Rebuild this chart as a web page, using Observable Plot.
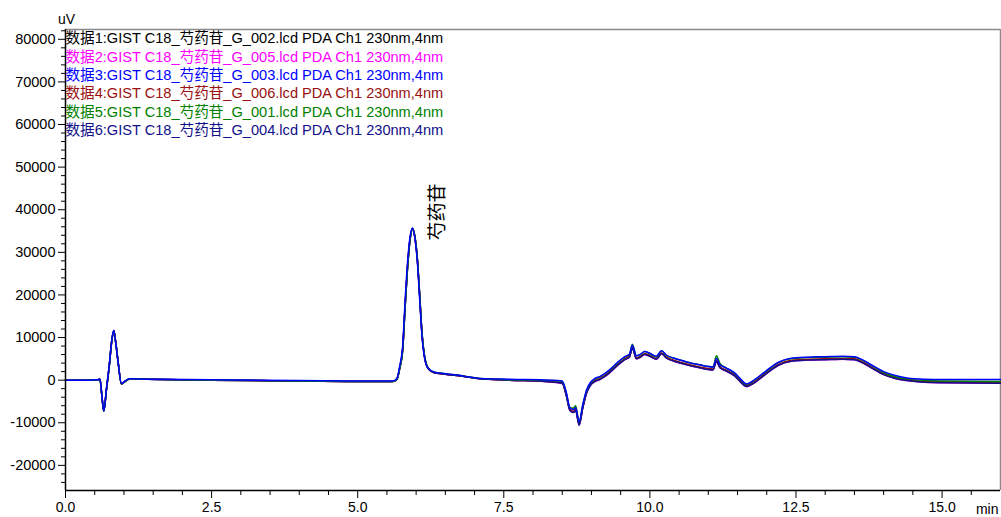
<!DOCTYPE html>
<html>
<head>
<meta charset="utf-8">
<script src="https://cdn.jsdelivr.net/npm/d3@7"></script>
<script src="https://cdn.jsdelivr.net/npm/@observablehq/plot@0.6"></script>
<style>
  html, body { margin: 0; padding: 0; background: #fff; }
  #chart svg { display: block; overflow: visible; }
</style>
</head>
<body>
<div id="chart"></div>
<script>
// Retention time (min)
const T = [0,0.4,0.55,0.59,0.62,0.655,0.70,0.75,0.79,0.826,0.86,0.90,0.957,1.02,1.1,1.4,2.5,4.0,5.0,5.6,
  5.67,5.72,5.77,5.81,5.85,5.90,5.94,5.98,6.02,6.06,6.10,6.15,6.20,6.30,6.50,6.8,7.1,7.6,8.3,8.5,
  8.57,8.63,8.69,8.73,8.79,8.85,8.92,8.98,9.05,9.15,9.3,9.45,9.57,9.65,9.70,9.77,9.84,9.91,10.0,10.11,
  10.20,10.28,10.4,10.6,10.85,11.08,11.14,11.20,11.3,11.45,11.55,11.65,11.8,12.0,12.2,12.4,12.7,13.0,13.3,13.5,
  13.65,13.8,14.0,14.2,14.4,14.7,15.0,16.0];

// Signal (uV), one array per run
const S1 = [0,0,100,200,-3300,-7300,-2300,3500,9000,11600,8800,4300,-900,-300,300,200,0,-200,-300,-300,
  200,2900,7200,17000,26000,33500,35600,33500,28500,20000,11000,5000,2900,1800,1400,900,300,0,-400,-700,
  -3500,-6900,-7400,-7000,-10300,-6500,-2800,-1200,-300,300,1700,3600,4900,5500,7600,5100,5500,6100,5700,5000,
  6300,5300,4600,3800,3000,2500,4500,3000,2300,1100,-300,-1400,-400,1700,3600,4500,4800,4900,5000,4900,
  4100,2900,1400,500,0,-400,-500,-600];
const S2 = [0,0,100,200,-3300,-7300,-2300,3500,9000,11600,8800,4300,-900,-300,300,200,0,-200,-300,-300,
  200,2900,7100,16800,25800,33400,35500,33500,28600,20100,11100,5000,2900,1800,1400,900,300,0,-450,-800,
  -3600,-7000,-7500,-7100,-10500,-6700,-2900,-1300,-400,200,1600,3500,4800,5400,7500,5000,5400,6000,5600,4900,
  6200,5200,4500,3700,2900,2400,4400,2900,2200,1000,-400,-1500,-500,1600,3500,4400,4700,4800,4900,4800,
  4000,2800,1300,400,-100,-500,-600,-700];
const S3 = [0,0,100,200,-3200,-7200,-2100,3700,9200,11700,8700,4200,-800,-200,300,200,100,-100,-200,-200,
  400,3400,8000,18200,27000,34000,35700,33200,28000,19200,10400,4800,2900,1900,1500,1000,400,200,0,-200,
  -2900,-6400,-6900,-6500,-9800,-5900,-2200,-600,300,900,2300,4200,5500,6100,8200,5700,6100,6700,6300,5600,
  6900,5900,5200,4400,3600,3100,5100,3600,2900,1700,300,-900,200,2300,4200,5100,5400,5500,5600,5500,
  4700,3500,2000,1100,500,200,150,150];
const S4 = [0,0,100,200,-3300,-7300,-2300,3500,9000,11600,8800,4300,-900,-300,300,200,0,-200,-300,-300,
  200,3000,7300,17200,26200,33600,35600,33400,28400,19900,10900,4900,2800,1800,1400,900,300,0,-350,-650,
  -3400,-6800,-7300,-6900,-10200,-6400,-2700,-1100,-200,400,1800,3700,5000,5600,7700,5200,5600,6200,5800,5100,
  6400,5400,4700,3900,3100,2600,4600,3100,2400,1200,-200,-1300,-300,1800,3700,4600,4900,5000,5100,5000,
  4200,3000,1500,600,100,-300,-400,-500];
const S5 = [0,0,100,200,-3300,-7300,-2300,3500,9000,11600,8800,4300,-900,-300,300,200,0,-200,-300,-300,
  200,2800,7000,16600,25600,33300,35500,33600,28700,20300,11300,5200,3000,1900,1500,1000,400,100,-100,-300,
  -3100,-6500,-6600,-6000,-9900,-6000,-2300,-700,200,800,2200,4100,5400,6000,8400,5700,6000,6700,6200,5500,
  6900,5800,5200,4400,3600,3100,5700,3900,2900,1600,200,-1000,100,2200,4100,5000,5300,5400,5500,5400,
  4600,3400,1800,800,300,-100,-200,-300];
const S6 = [0,0,100,200,-3300,-7300,-2300,3500,9000,11600,8800,4300,-900,-300,300,200,0,-200,-300,-300,
  100,2800,7000,16700,25700,33300,35500,33600,28700,20200,11200,5100,2900,1800,1400,900,300,0,-400,-750,
  -3600,-7100,-7600,-7200,-10600,-6600,-2900,-1300,-400,200,1600,3500,4800,5400,7400,5000,5400,6000,5600,4900,
  6200,5200,4500,3700,2900,2400,4300,2900,2200,1000,-400,-1500,-500,1600,3500,4400,4700,4800,4900,4800,
  4000,2800,1300,400,-100,-500,-600,-700];

const legendLabels = [
  "数据1:GIST C18_芍药苷_G_002.lcd PDA Ch1 230nm,4nm",
  "数据2:GIST C18_芍药苷_G_005.lcd PDA Ch1 230nm,4nm",
  "数据3:GIST C18_芍药苷_G_003.lcd PDA Ch1 230nm,4nm",
  "数据4:GIST C18_芍药苷_G_006.lcd PDA Ch1 230nm,4nm",
  "数据5:GIST C18_芍药苷_G_001.lcd PDA Ch1 230nm,4nm",
  "数据6:GIST C18_芍药苷_G_004.lcd PDA Ch1 230nm,4nm"
];
const seriesColors = ["#000000", "#ff00ff", "#0000ff", "#9a0f0f", "#008000", "#10108a"];
const drawOrder = [0, 1, 3, 5, 4, 2];
const peakNames = ["芍药苷"];

const yMajor = [-20000,-10000,0,10000,20000,30000,40000,50000,60000,70000,80000];
const xMajor = [0,2.5,5,7.5,10,12.5,15];
const xLabels = ["0.0","2.5","5.0","7.5","10.0","12.5","15.0"];
const yDomain = [-25900, 82300];
const xDomain = [0, 16];

const yMinor = d3.range(-24000, 82001, 2000).filter(v => v % 10000 !== 0);
const xMinor = d3.range(0.5, 15.51, 0.5).filter(v => Math.abs(v / 2.5 - Math.round(v / 2.5)) > 1e-6);

const allSeries = [S1, S2, S3, S4, S5, S6];
const rows = [];
drawOrder.forEach(k => allSeries[k].forEach((v, i) => rows.push({t: T[i], v, s: legendLabels[k]})));

const iMax = d3.maxIndex(S1);
const peaks = [{name: peakNames[0], t: T[iMax], v: S1[iMax]}];

const FONT = "'Liberation Sans', Arial, 'Noto Sans CJK SC', sans-serif";

const legendMarks = legendLabels.map((lab, i) =>
  Plot.text([lab], {
    text: d => d, frameAnchor: "top-left", textAnchor: "start", lineAnchor: "middle",
    dx: 0, dy: 9 + i * 18.4, fill: seriesColors[i], fontSize: 14.6
  })
);

const chart = Plot.plot({
  width: 1001,
  height: 517,
  marginLeft: 65,
  marginRight: 1,
  marginTop: 29,
  marginBottom: 27,
  style: {fontFamily: FONT, fontSize: "14px", color: "#000", background: "#fff", overflow: "visible"},
  x: {domain: xDomain, axis: null},
  y: {domain: yDomain, axis: null},
  color: {domain: legendLabels, range: seriesColors},
  marks: [
    Plot.ruleY([yDomain[1]], {stroke: "#8a8a8a", strokeWidth: 1.5}),
    Plot.ruleX([xDomain[1]], {stroke: "#8a8a8a", strokeWidth: 1.5}),
    Plot.line(rows, {x: "t", y: "v", z: "s", stroke: "s", strokeWidth: 1.5, curve: "monotone-x"}),
    Plot.ruleX([xDomain[0]], {stroke: "#000", strokeWidth: 1.5}),
    Plot.ruleY([yDomain[0]], {stroke: "#000", strokeWidth: 1.5}),
    Plot.axisY(yMajor, {tickSize: 7, tickPadding: 3, tickFormat: d => String(d), fontSize: 14.5, label: null}),
    Plot.axisY(yMinor, {tickSize: 4, tickFormat: () => "", label: null}),
    Plot.axisX(xMajor, {tickSize: 8, tickPadding: 4, tickFormat: d => xLabels[xMajor.indexOf(d)], fontSize: 14, label: null}),
    Plot.axisX(xMinor, {tickSize: 5, tickFormat: () => "", label: null}),
    ...legendMarks,
    Plot.text(peaks, {x: "t", y: "v", text: "name", rotate: -90, textAnchor: "start", lineAnchor: "middle",
      dx: 25, dy: 12, fontSize: 19, fill: "#000"}),
    Plot.text(["uV"], {text: d => d, frameAnchor: "top-left", textAnchor: "middle", lineAnchor: "middle",
      dx: 1, dy: -10, fontSize: 14}),
    Plot.text(["min"], {text: d => d, frameAnchor: "bottom-right", textAnchor: "end", lineAnchor: "middle",
      dx: -2, dy: 19, fontSize: 14})
  ]
});
document.getElementById("chart").appendChild(chart);
</script>
</body>
</html>
